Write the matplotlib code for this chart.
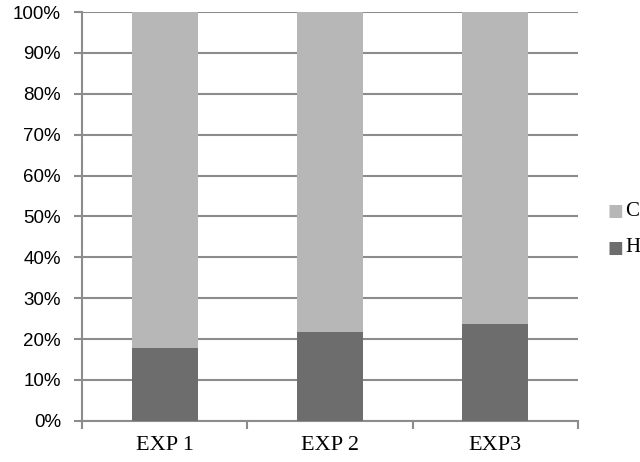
import matplotlib
matplotlib.use("Agg")
import matplotlib.pyplot as plt
from matplotlib.ticker import FuncFormatter

# data (percent shares per experiment)
categories = ["EXP 1", "EXP 2", "EXP3"]
h_share = [17.8, 21.8, 23.7]
c_share = [82.2, 78.2, 76.3]
legend_names = ["C", "H"]

light = "#b7b7b7"
dark = "#6d6d6d"
grid_col = "#8c8c8c"

fig = plt.figure(figsize=(6.4, 4.62), dpi=100)
ax = fig.add_axes([0.128, 0.089, 0.775, 0.885])

x = range(len(categories))
ax.bar(x, h_share, width=0.4, color=dark, zorder=3)
ax.bar(x, c_share, width=0.4, bottom=h_share, color=light, zorder=3)

ax.set_xlim(-0.5, len(categories) - 0.5)
ax.set_ylim(0, 100)
ax.set_yticks(range(0, 101, 10))
ax.yaxis.set_major_formatter(FuncFormatter(lambda v, p: "%d%%" % v))
ax.yaxis.grid(True, color=grid_col, linewidth=1.5, zorder=0)

# category labels between boundary ticks
ax.set_xticks([-0.5, 0.5, 1.5, 2.5])
ax.set_xticklabels([])
ax.set_xticks(list(x), minor=True)
ax.set_xticklabels(categories, minor=True, fontfamily="Liberation Serif", fontsize=16)
ax.tick_params(axis="x", which="minor", length=0, pad=11)
ax.tick_params(axis="x", which="major", length=6, color=grid_col, width=1.5)
ax.tick_params(axis="y", length=6, color=grid_col, width=1.5, pad=9, labelsize=13.5)
for lab in ax.get_yticklabels():
    lab.set_fontfamily("Liberation Sans")

for side in ["top", "right"]:
    ax.spines[side].set_visible(False)
for side in ["left", "bottom"]:
    ax.spines[side].set_color(grid_col)
    ax.spines[side].set_linewidth(1.5)

# legend at the right edge
for i, (name, col) in enumerate(zip(legend_names, [light, dark])):
    yy = 1 - (211 + 37 * i) / 462
    fig.text(615 / 640, yy, "\u25a0", color=col, fontsize=12, va="center", ha="center")
    fig.text(625 / 640, yy, name, fontfamily="Liberation Serif", fontsize=15, va="center")

fig.savefig("out.png", dpi=100)
